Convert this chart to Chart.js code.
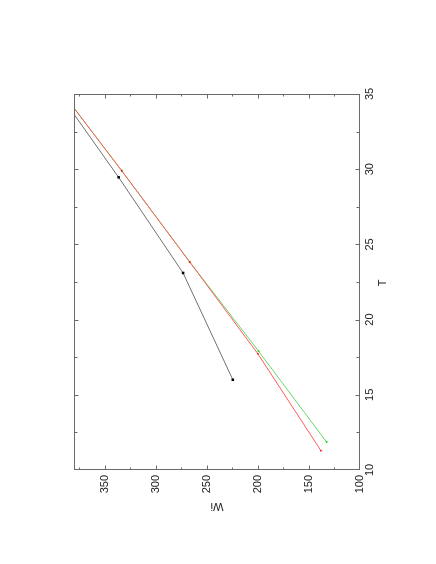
<!DOCTYPE html>
<html>
<head>
<meta charset="utf-8">
<script src="https://cdn.jsdelivr.net/npm/chart.js"></script>
<style>
  html, body { margin: 0; padding: 0; background: #fff; }
  canvas { display: block; }
</style>
</head>
<body>
<canvas id="chart" width="436" height="564"></canvas>
<script>
// values (Wi on the horizontal axis, T on the vertical one)
const blackWi = [224.5, 273.2, 336.3, 400];
const blackT = [16.0, 23.1, 29.46, 35.57];

const redWi = [138.2, 200.0, 266.7, 333.3, 400];
const redT = [11.28, 17.73, 23.83, 29.9, 35.85];

const greenWi = [132.7, 199.3, 266.7, 333.3, 400];
const greenT = [11.86, 17.9, 23.83, 29.9, 35.85];

// axis ranges and ticks
const wiRange = [100, 380];
const tRange = [10, 35];
const wiMinor = [125, 175, 225, 275, 325, 375];
const wiMajor = [150, 200, 250, 300, 350];
const tMinor = [12.5, 17.5, 22.5, 27.5, 32.5];
const tMajor = [15, 20, 25, 30];

const labelFont = { family: "'Liberation Sans', Arial, sans-serif", size: 11 };

function toPoints(xs, ys) {
    return xs.map((x, i) => ({ x: x, y: ys[i] }));
}

// box, inward ticks (gnuplot style) and the rotated axis titles
const frame = {
    id: "frame",
    afterDraw(chart) {
        const { ctx, chartArea: a, scales } = chart;
        const x = scales.x, y = scales.y;
        const L = Math.round(a.left) + 0.5, R = Math.round(a.right) - 0.5;
        const T = Math.round(a.top) + 0.5, B = Math.round(a.bottom) - 0.5;
        ctx.save();
        ctx.strokeStyle = "#6a6a6a";
        ctx.lineWidth = 1;
        ctx.strokeRect(L, T, R - L, B - T);

        ctx.beginPath();
        const xTick = (v, len) => {
            const px = Math.round(x.getPixelForValue(v)) + 0.5;
            ctx.moveTo(px, B); ctx.lineTo(px, B - len);
            ctx.moveTo(px, T); ctx.lineTo(px, T + len);
        };
        const yTick = (v, len) => {
            const py = Math.round(y.getPixelForValue(v)) + 0.5;
            ctx.moveTo(L, py); ctx.lineTo(L + len, py);
            ctx.moveTo(R, py); ctx.lineTo(R - len, py);
        };
        wiMajor.forEach(v => xTick(v, 4));
        wiMinor.forEach(v => xTick(v, 2));
        tMajor.forEach(v => yTick(v, 4));
        tMinor.forEach(v => yTick(v, 3));
        ctx.stroke();

        ctx.fillStyle = "#222";
        ctx.font = "11px 'Liberation Sans', Arial, sans-serif";
        ctx.textAlign = "center";
        ctx.textBaseline = "middle";

        ctx.save();
        ctx.translate(383, 283);
        ctx.rotate(-Math.PI / 2);
        ctx.fillText("T", 0, 0);
        ctx.restore();

        ctx.save();
        ctx.translate(217, 506);
        ctx.rotate(Math.PI);
        ctx.fillText("Wi", 0, 0);
        ctx.restore();

        ctx.restore();
    }
};

new Chart(document.getElementById("chart"), {
    type: "scatter",
    data: {
        datasets: [
            {
                label: "black",
                data: toPoints(blackWi, blackT),
                showLine: true,
                borderColor: "#707070",
                backgroundColor: "#000",
                borderWidth: 1,
                pointStyle: "rect",
                pointRadius: 1.8,
                pointBorderWidth: 0
            },
            {
                label: "red",
                data: toPoints(redWi, redT),
                showLine: true,
                borderColor: "#ff5a5a",
                backgroundColor: "#ff0000",
                borderWidth: 1,
                pointStyle: "rect",
                pointRadius: 1.1,
                pointBorderWidth: 0
            },
            {
                label: "green",
                data: toPoints(greenWi, greenT),
                showLine: true,
                borderColor: "#66d866",
                backgroundColor: "#00dd00",
                borderWidth: 1,
                pointStyle: "rect",
                pointRadius: 1.2,
                pointBorderWidth: 0
            }
        ]
    },
    options: {
        responsive: false,
        animation: false,
        devicePixelRatio: 1,
        layout: { padding: { left: 74, top: 94, right: 0, bottom: 0 } },
        plugins: { legend: { display: false }, tooltip: { enabled: false } },
        scales: {
            x: {
                type: "linear",
                position: "bottom",
                reverse: true,
                min: wiRange[0],
                max: wiRange[1],
                grid: { display: false, drawTicks: false },
                border: { display: false },
                ticks: {
                    stepSize: 50,
                    includeBounds: false,
                    minRotation: 90,
                    maxRotation: 90,
                    padding: 5,
                    color: "#222",
                    font: labelFont
                },
                afterFit: s => { s.height = 94; }
            },
            y: {
                type: "linear",
                position: "right",
                min: tRange[0],
                max: tRange[1],
                grid: { display: false, drawTicks: false },
                border: { display: false },
                ticks: {
                    stepSize: 5,
                    minRotation: 90,
                    maxRotation: 90,
                    crossAlign: "center",
                    padding: 4,
                    color: "#222",
                    font: labelFont
                },
                afterFit: s => { s.width = 76; }
            }
        }
    },
    plugins: [frame]
});
</script>
</body>
</html>
